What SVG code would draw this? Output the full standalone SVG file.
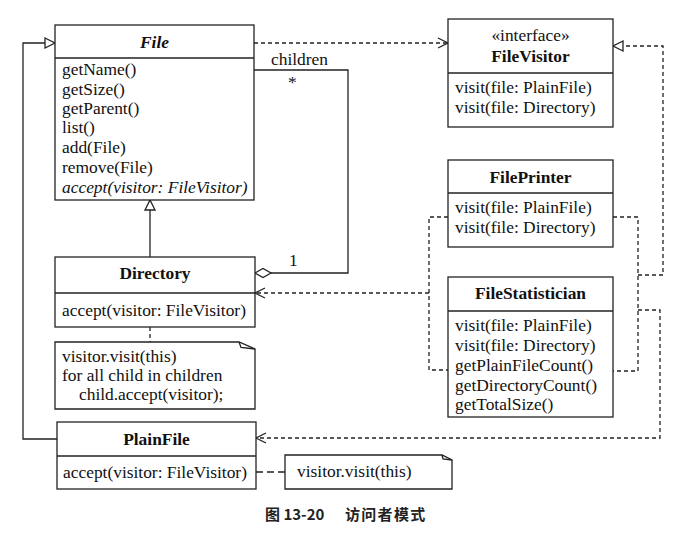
<svg xmlns="http://www.w3.org/2000/svg" width="695" height="539" viewBox="0 0 695 539">
<style>
.box{fill:#fff;stroke:#222;stroke-width:1.3}
.sep{stroke:#222;stroke-width:1.3}
.t{font-family:'Liberation Serif','DejaVu Serif',serif;font-size:17.4px;fill:#111}
.b{font-weight:bold}
.c{text-anchor:middle}
.i{font-style:italic}
.ln{fill:none;stroke:#222;stroke-width:1.3}
.dl{fill:none;stroke:#222;stroke-width:1.3;stroke-dasharray:4 3}
.cap{font-family:'Noto Sans CJK SC','Noto Sans',sans-serif;font-size:15px;font-weight:bold;fill:#222}
</style>
<defs>
<marker id="open" markerUnits="userSpaceOnUse" markerWidth="12" markerHeight="12" refX="10" refY="5" orient="auto" overflow="visible">
<path d="M0,0 L10,5 L0,10" fill="none" stroke="#222" stroke-width="1.3" stroke-dasharray="none"/>
</marker>
<marker id="tri" markerUnits="userSpaceOnUse" markerWidth="12" markerHeight="12" refX="10" refY="5" orient="auto" overflow="visible">
<path d="M0,0 L10,5 L0,10 Z" fill="#fff" stroke="#222" stroke-width="1.3" stroke-dasharray="none"/>
</marker>
</defs>
<rect width="695" height="539" fill="#fff"/>

<g id="connectors">
<path class="ln" d="M150,257 V200" marker-end="url(#tri)"/>
<path class="ln" d="M57,439 H23 V43 H55" marker-end="url(#tri)"/>
<path class="ln" d="M254,70 H348 V273 H271"/>
<polygon points="255,273 263,268.5 271,273 263,277.5" fill="#fff" stroke="#222" stroke-width="1.3"/>
<text class="t" x="271" y="65">children</text>
<text class="t" x="288" y="88">*</text>
<text class="t" x="289" y="266">1</text>
<path class="dl" d="M254,43 H448" marker-end="url(#open)"/>
<path class="dl" d="M613,217 H638 V371 H613"/>
<path class="dl" d="M638,275 H663 V46 H613" marker-end="url(#tri)"/>
<path class="dl" d="M448,217 H429 V370 H448"/>
<path class="dl" d="M429,293 H255" marker-end="url(#open)"/>
<path class="dl" d="M638,310 H660 V438 H256" marker-end="url(#open)"/>
<path class="dl" d="M150,327 V342"/>
<path class="ln" d="M256,472 H285" stroke-dasharray="7 4"/>
</g>

<g id="File">
<rect class="box" x="55" y="25" width="199" height="175"/>
<line class="sep" x1="55" y1="58" x2="254" y2="58"/>
<text class="t b i c" x="154.5" y="47.5">File</text>
<text class="t" x="62" y="75">getName()</text>
<text class="t" x="62" y="95">getSize()</text>
<text class="t" x="62" y="114">getParent()</text>
<text class="t" x="62" y="133">list()</text>
<text class="t" x="62" y="153">add(File)</text>
<text class="t" x="62" y="173">remove(File)</text>
<text class="t i" x="62" y="193">accept(visitor: FileVisitor)</text>
</g>

<g id="FileVisitor">
<rect class="box" x="448" y="19" width="165" height="108"/>
<line class="sep" x1="448" y1="73" x2="613" y2="73"/>
<text class="t c" x="530.5" y="41">«interface»</text>
<text class="t b c" x="530.5" y="61.5">FileVisitor</text>
<text class="t" x="455" y="93">visit(file: PlainFile)</text>
<text class="t" x="455" y="113">visit(file: Directory)</text>
</g>

<g id="FilePrinter">
<rect class="box" x="448" y="160" width="165" height="87"/>
<line class="sep" x1="448" y1="193" x2="613" y2="193"/>
<text class="t b c" x="530.5" y="182.5">FilePrinter</text>
<text class="t" x="455" y="213">visit(file: PlainFile)</text>
<text class="t" x="455" y="233">visit(file: Directory)</text>
</g>

<g id="FileStatistician">
<rect class="box" x="448" y="277" width="165" height="140"/>
<line class="sep" x1="448" y1="311" x2="613" y2="311"/>
<text class="t b c" x="530.5" y="299">FileStatistician</text>
<text class="t" x="455" y="331">visit(file: PlainFile)</text>
<text class="t" x="455" y="351">visit(file: Directory)</text>
<text class="t" x="455" y="371">getPlainFileCount()</text>
<text class="t" x="455" y="391">getDirectoryCount()</text>
<text class="t" x="455" y="410">getTotalSize()</text>
</g>

<g id="Directory">
<rect class="box" x="55" y="257" width="200" height="70"/>
<line class="sep" x1="55" y1="293" x2="255" y2="293"/>
<text class="t b c" x="155" y="279">Directory</text>
<text class="t" x="62" y="316">accept(visitor: FileVisitor)</text>
</g>

<g id="DirectoryNote">
<path class="box" d="M55,342 H239 L255,349 V409 H55 Z"/>
<path class="ln" d="M239,342 L241,347.5 L255,349"/>
<text class="t" x="62" y="362">visitor.visit(this)</text>
<text class="t" x="62" y="381">for all child in children</text>
<text class="t" x="79" y="400">child.accept(visitor);</text>
</g>

<g id="PlainFile">
<rect class="box" x="57" y="422" width="199" height="67"/>
<line class="sep" x1="57" y1="456" x2="256" y2="456"/>
<text class="t b c" x="156.5" y="444.5">PlainFile</text>
<text class="t" x="63" y="478">accept(visitor: FileVisitor)</text>
</g>

<g id="PlainFileNote">
<path class="box" d="M285,455 H442 L452,460 V489 H285 Z"/>
<path class="ln" d="M442,455 L443,459 L452,460"/>
<text class="t" x="297" y="477">visitor.visit(this)</text>
</g>

<text class="cap" x="265" y="520">图 13-20</text>
<text class="cap" x="345" y="520" letter-spacing="1.3">访问者模式</text>
</svg>
